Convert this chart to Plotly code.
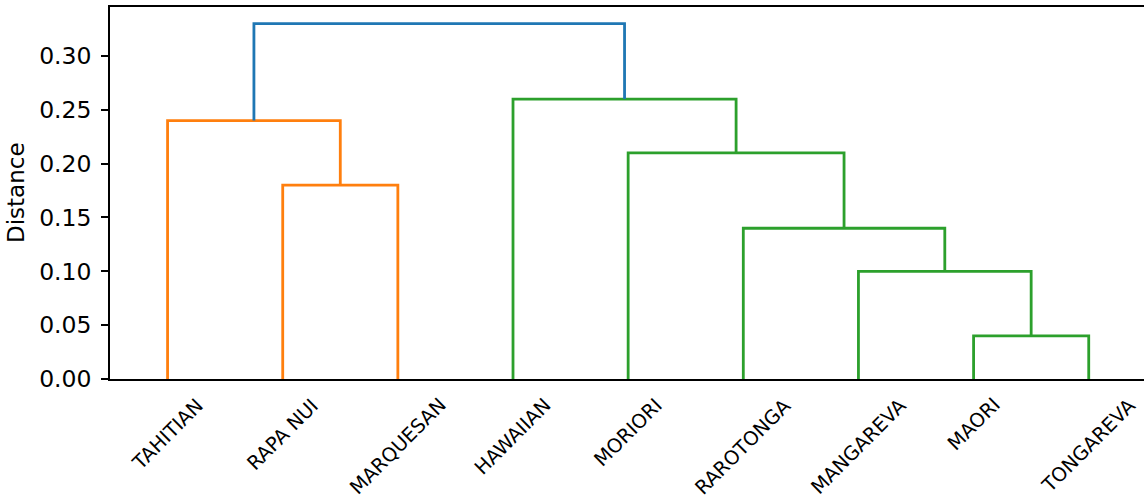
import plotly.graph_objects as go

# ---- data ----
leaf_labels = ["TAHITIAN", "RAPA NUI", "MARQUESAN", "HAWAIIAN", "MORIORI",
               "RAROTONGA", "MANGAREVA", "MAORI", "TONGAREVA"]
# merges: children are leaf names or earlier cluster ids ("c1", ...)
merge_ids = ["c1", "c2", "c3", "c4", "c5", "c6", "c7", "c8"]
merge_left = ["MAORI", "MANGAREVA", "RAROTONGA", "MORIORI", "HAWAIIAN", "RAPA NUI", "TAHITIAN", "c7"]
merge_right = ["TONGAREVA", "c1", "c2", "c3", "c4", "MARQUESAN", "c6", "c5"]
merge_heights = [0.04, 0.10, 0.14, 0.21, 0.26, 0.18, 0.24, 0.33]
merge_group = ["g", "g", "g", "g", "g", "o", "o", "top"]
y_ticks = [0.00, 0.05, 0.10, 0.15, 0.20, 0.25, 0.30]

group_colors = {"o": "#ff7f0e", "g": "#2ca02c", "top": "#1f77b4"}

# leaf positions like scipy dendrogram: 5, 15, 25, ...
pos = {name: 5 + 10 * i for i, name in enumerate(leaf_labels)}
hgt = {name: 0.0 for name in leaf_labels}

fig = go.Figure()
for cid, l, r, h, g in zip(merge_ids, merge_left, merge_right, merge_heights, merge_group):
    xl, xr = pos[l], pos[r]
    fig.add_trace(go.Scatter(
        x=[xl, xl, xr, xr], y=[hgt[l], h, h, hgt[r]],
        mode="lines", line=dict(color=group_colors[g], width=2.8),
        showlegend=False, hoverinfo="skip"))
    pos[cid] = (xl + xr) / 2
    hgt[cid] = h

# centered rotated leaf labels (matplotlib style)
for name in leaf_labels:
    fig.add_annotation(x=pos[name], xref="x", y=0, yref="paper",
                       text=name, textangle=-45, showarrow=False,
                       xanchor="center", yanchor="top", yshift=-12,
                       font=dict(family="DejaVu Sans", size=19.5, color="black"))

fig.add_annotation(x=0, xref="paper", xshift=-94, y=0.5, yref="paper",
                   text="Distance", textangle=-90, showarrow=False,
                   xanchor="center", yanchor="middle",
                   font=dict(family="DejaVu Sans", size=23, color="black"))

fig.update_layout(
    width=1144, height=502,
    margin=dict(l=110, r=0, t=7, b=123),
    plot_bgcolor="white", paper_bgcolor="white",
    font=dict(family="DejaVu Sans", color="black"),
)
fig.update_xaxes(range=[0, 89.8], showgrid=False, zeroline=False,
                 showline=True, linecolor="black", linewidth=1.6, mirror=True,
                 showticklabels=False, ticks="")
fig.update_yaxes(range=[0, 0.3455], showgrid=False, zeroline=False,
                 showline=True, linecolor="black", linewidth=1.6, mirror=False,
                 tickvals=y_ticks, tickformat=".2f",
                 ticks="outside", ticklen=7, tickwidth=1.6, tickcolor="black",
                 ticklabelstandoff=5,
                 tickfont=dict(family="DejaVu Sans", size=23.5, color="black"))

fig.write_html("out.html", config={"displayModeBar": False},
               post_script="document.body.style.margin='0';document.body.style.overflow='hidden';")
